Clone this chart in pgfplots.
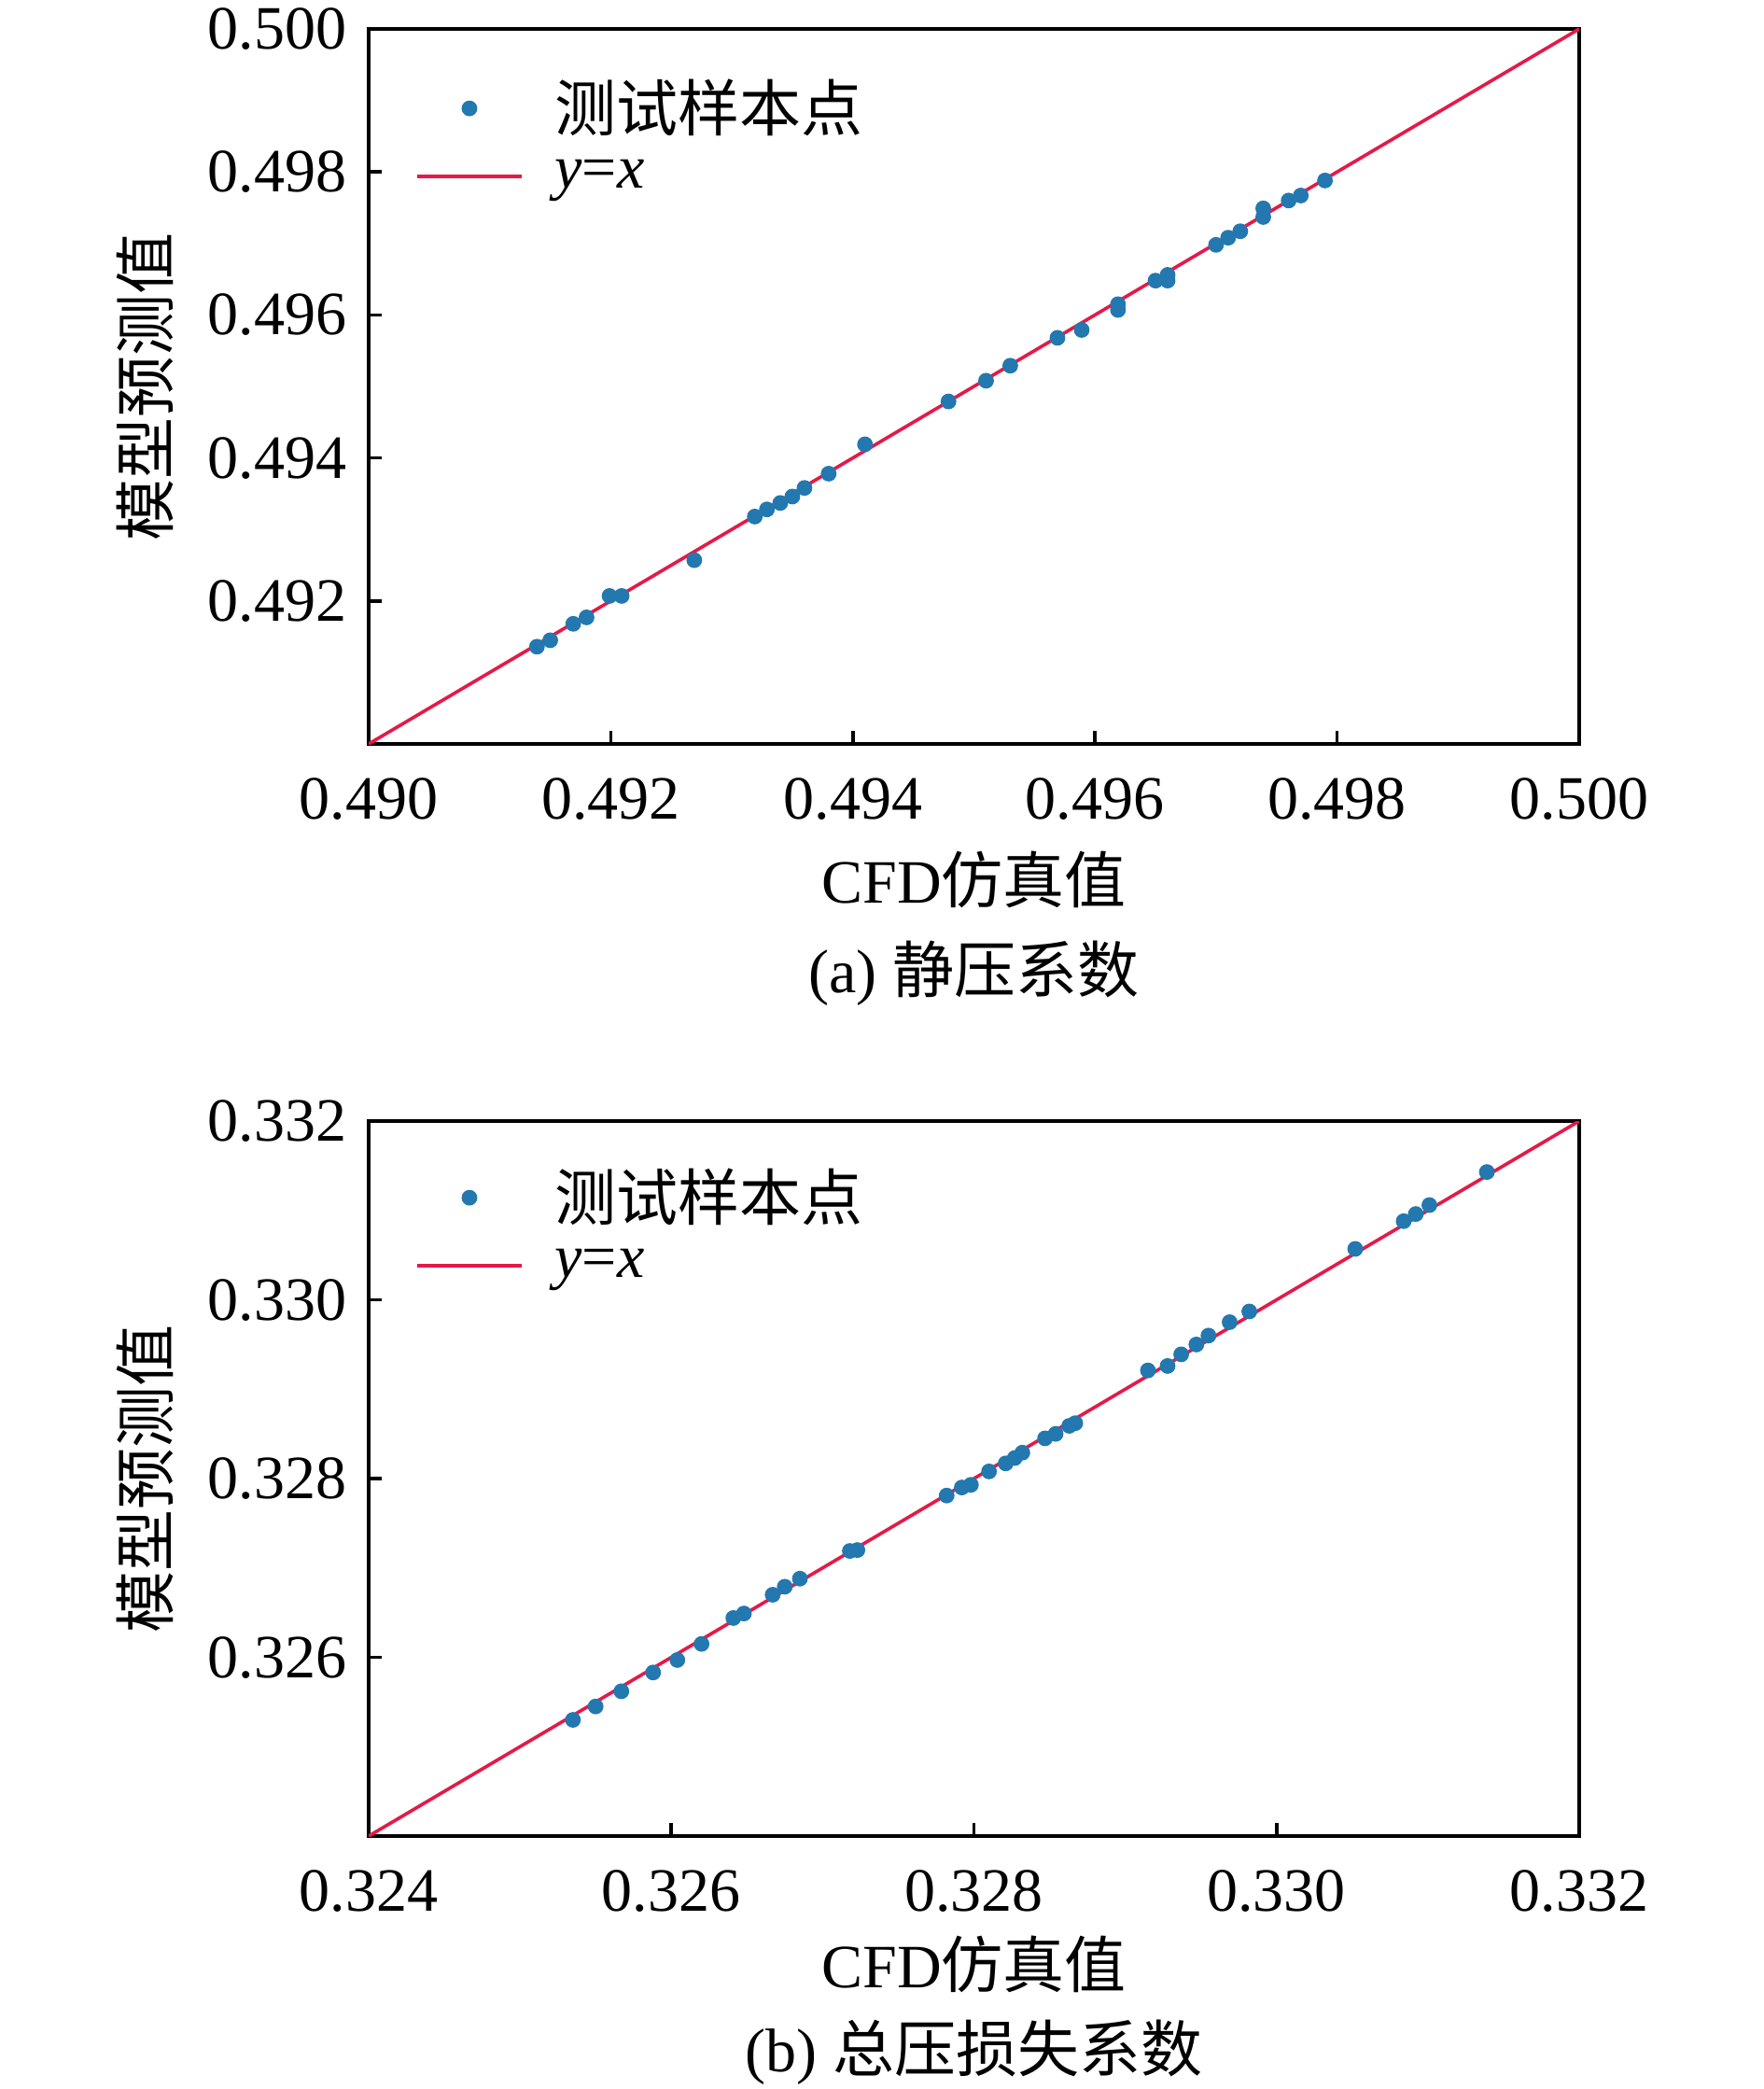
\documentclass[border=0pt]{standalone}
\usepackage{fontspec}
\setmainfont{Liberation Serif}
\newfontfamily\cjk{Noto Sans CJK SC}
\usepackage{pgfplots}
\pgfplotsset{compat=1.18}
\definecolor{ptblue}{RGB}{35,120,175}
\definecolor{linered}{RGB}{228,26,72}
\pgfplotsset{
  myaxis/.style={
    scale only axis,
    width=324.25pt, height=191.5pt,
    axis line style={line width=1pt},
    tick align=inside,
    xtick pos=bottom, ytick pos=left,
    major tick length=3.5pt,
    tick style={line width=0.9pt, black},
    scaled ticks=false,
    /pgf/number format/assume math mode=true,
    /pgf/number format/fixed,
    /pgf/number format/fixed zerofill,
    /pgf/number format/precision=3,
    xticklabel style={yshift=-5.5pt},
    yticklabel style={xshift=-2.4pt},
    tick label style={font=\fontsize{16.5}{20}\selectfont},
    label style={font=\fontsize{16.5}{20}\selectfont},
    xlabel style={at={(axis description cs:0.5,-0.19)}, anchor=center},
    ylabel style={at={(axis description cs:-0.185,0.5)}, anchor=center},
    legend style={draw=none, fill=none, at={(axis description cs:0.029,0.951)}, anchor=north west,
      font=\fontsize{16.5}{20}\selectfont, row sep=2pt,
      /tikz/every even column/.append style={column sep=4pt}},
    legend cell align=left,
  },
  dotleg/.style={legend image code/.code={\fill[ptblue] (0.49cm,0cm) circle (1.9pt);}},
  lineleg/.style={legend image code/.code={\draw[linered, line width=0.9pt] (0cm,0cm) -- (0.98cm,0cm);}},
}
\begin{document}
\begin{tikzpicture}
\useasboundingbox (-98.75pt,-360.25pt) rectangle (373.75pt,199.25pt);
\begin{axis}[myaxis, at={(0pt,0pt)}, anchor=south west,
  xmin=0.490, xmax=0.500, ymin=0.490, ymax=0.500,
  xtick={0.490,0.492,0.494,0.496,0.498,0.500},
  ytick={0.492,0.494,0.496,0.498,0.500},
  xlabel={CFD{\cjk 仿真值}}, ylabel={{\cjk 模型预测值}},
]
\addlegendimage{dotleg}
\addlegendentry{\hspace{6.5pt}{\cjk 测试样本点}}
\addlegendimage{lineleg}
\addlegendentry{\hspace{6.5pt}\textit{y}=\textit{x}}
\addplot[only marks, mark=*, mark size=1.9pt, color=ptblue, forget plot] coordinates {
(0.49139,0.49136) (0.49150,0.49145) (0.49169,0.49168) (0.49180,0.49177)
(0.49199,0.49207) (0.49209,0.49207) (0.49269,0.49257) (0.49319,0.49318)
(0.49329,0.49328) (0.49340,0.49337) (0.49350,0.49346) (0.49360,0.49358)
(0.49380,0.49378) (0.49410,0.49419) (0.49479,0.49479) (0.49510,0.49508)
(0.49530,0.49529) (0.49569,0.49568) (0.49589,0.49579) (0.49619,0.49615)
(0.49619,0.49607) (0.49650,0.49648) (0.49660,0.49656) (0.49660,0.49648)
(0.49700,0.49698) (0.49710,0.49708) (0.49720,0.49717) (0.49739,0.49749)
(0.49739,0.49737) (0.49760,0.49760) (0.49770,0.49767) (0.49790,0.49788)
};
\addplot[linered, line width=0.9pt, forget plot] coordinates {(0.490,0.490) (0.500,0.500)};
\end{axis}
\node[font=\fontsize{16.5}{20}\selectfont] at (162.1pt,-61.5pt) {(a) {\cjk 静压系数}};
\begin{axis}[myaxis, at={(0pt,-292.5pt)}, anchor=south west,
  xmin=0.324, xmax=0.332, ymin=0.324, ymax=0.332,
  xtick={0.324,0.326,0.328,0.330,0.332},
  ytick={0.326,0.328,0.330,0.332},
  xlabel={CFD{\cjk 仿真值}}, ylabel={{\cjk 模型预测值}},
  xlabel style={at={(axis description cs:0.5,-0.18)}},
  legend style={at={(axis description cs:0.029,0.955)}},
]
\addlegendimage{dotleg}
\addlegendentry{\hspace{6.5pt}{\cjk 测试样本点}}
\addlegendimage{lineleg}
\addlegendentry{\hspace{6.5pt}\textit{y}=\textit{x}}
\addplot[only marks, mark=*, mark size=1.9pt, color=ptblue, forget plot] coordinates {
(0.32535,0.32530) (0.32550,0.32545) (0.32567,0.32562) (0.32588,0.32583)
(0.32604,0.32597) (0.32620,0.32615) (0.32641,0.32644) (0.32648,0.32649)
(0.32667,0.32670) (0.32675,0.32679) (0.32685,0.32688) (0.32718,0.32719)
(0.32723,0.32720) (0.32782,0.32781) (0.32792,0.32790) (0.32798,0.32793)
(0.32810,0.32808) (0.32821,0.32817) (0.32827,0.32823) (0.32832,0.32829)
(0.32847,0.32845) (0.32854,0.32850) (0.32863,0.32859) (0.32867,0.32862)
(0.32915,0.32921) (0.32928,0.32926) (0.32937,0.32939) (0.32947,0.32950)
(0.32955,0.32960) (0.32969,0.32975) (0.32982,0.32987) (0.33052,0.33057)
(0.33084,0.33088) (0.33092,0.33096) (0.33101,0.33106) (0.33139,0.33143)
};
\addplot[linered, line width=0.9pt, forget plot] coordinates {(0.324,0.324) (0.332,0.332)};
\end{axis}
\node[font=\fontsize{16.5}{20}\selectfont] at (162.1pt,-350.5pt) {(b) {\cjk 总压损失系数}};
\end{tikzpicture}
\end{document}
